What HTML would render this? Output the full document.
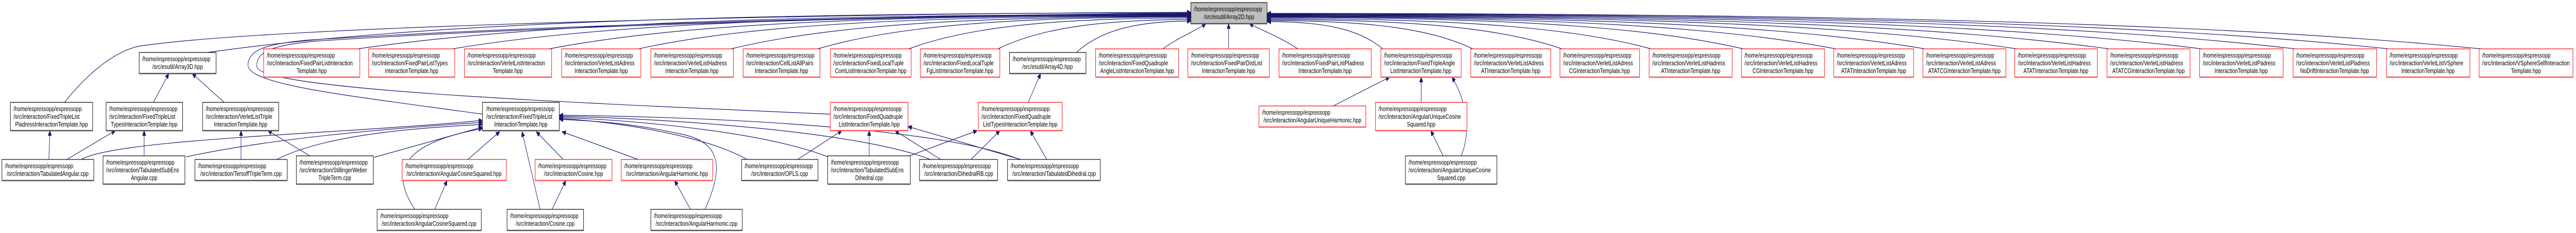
<!DOCTYPE html>
<html><head><meta charset="utf-8"><style>
html,body{margin:0;padding:0;background:#fff;width:100vw;height:100vh;overflow:hidden;}
svg{display:block;width:100vw;height:100vh;}
text{font-family:"Liberation Sans",Arial,sans-serif;font-size:13px;fill:#000;}
.e{fill:none;stroke:#191970;stroke-width:1.2;marker-end:url(#ah);}
.r{fill:#fff;stroke:#ff0000;stroke-width:1.2;}
.b{fill:#fff;stroke:#000;stroke-width:1.2;}
.g{fill:#bfbfbf;stroke:#000;stroke-width:1.2;}
.rs{stroke:#ff5a5a;stroke-width:2.5;}
.bs{stroke:#555;stroke-width:2.5;}
.m{text-anchor:middle;}
</style></head><body>
<svg viewBox="0 0 6701 453" preserveAspectRatio="none" xmlns="http://www.w3.org/2000/svg">
<defs><marker id="ah" markerUnits="userSpaceOnUse" markerWidth="11" markerHeight="9" refX="10" refY="4.5" orient="auto"><path d="M0,0 L10,4.5 L0,9 z" fill="#191970" stroke="#191970"/></marker></defs>

<path class="e" d="M168,199 C230,140 300,100 360,90 C700,50 2200,25 3098,24"/>
<path class="e" d="M539,102 C1051,48 1818,25 3098,25"/>
<path class="e" d="M1255,222 C900,185 640,165 645,125 C648,95 700,85 800,78 C1500,45 2500,28 3098,26"/>
<path class="e" d="M2160,222 C1500,200 680,175 668,130 C665,100 710,88 820,80 C1500,47 2500,29 3098,27"/>
<path class="e" d="M930,95 C1364,48 2014,28 3098,28"/>
<path class="e" d="M1177,95 C1561,47 2137,29 3098,29"/>
<path class="e" d="M1429,95 C1763,47 2263,30 3098,30"/>
<path class="e" d="M1661,95 C1948,48 2380,31 3098,31"/>
<path class="e" d="M1902,95 C2141,51 2500,32 3098,32"/>
<path class="e" d="M2127,95 C2321,52 2612,33 3098,33"/>
<path class="e" d="M2364,95 C2511,54 2731,35 3098,35"/>
<path class="e" d="M2596,95 C2696,58 2847,38 3098,38"/>
<path class="e" d="M2800,102 C2860,61 2949,41 3098,41"/>
<path class="e" d="M3025,95 C3060,75 3110,60 3137,46"/>
<path class="e" d="M3196,95 L3196,46"/>
<path class="e" d="M3376,95 C3330,72 3280,58 3250,46"/>
<path class="e" d="M3597,95 C3537,57 3446,42 3296,42"/>
<path class="e" d="M3831,95 C3724,56 3563,40 3296,40"/>
<path class="e" d="M4063,95 C3910,55 3679,38 3296,38"/>
<path class="e" d="M4295,95 C4095,54 3795,36 3296,36"/>
<path class="e" d="M4535,95 C4287,52 3915,34 3296,34"/>
<path class="e" d="M4775,95 C4479,52 4035,33 3296,33"/>
<path class="e" d="M5007,95 C4665,51 4151,32 3296,32"/>
<path class="e" d="M5246,95 C4856,50 4271,31 3296,31"/>
<path class="e" d="M5486,95 C5048,50 4391,30 3296,30"/>
<path class="e" d="M5727,95 C5241,49 4511,29 3296,29"/>
<path class="e" d="M5970,95 C5435,48 4633,28 3296,28"/>
<path class="e" d="M6213,95 C5630,48 4754,27 3296,27"/>
<path class="e" d="M6454,95 C5822,48 4875,26 3296,26"/>

<path class="e" d="M399,199 L439,143"/>
<path class="e" d="M583,199 L500,143"/>
<path class="e" d="M2675,199 L2707,143"/>
<path class="e" d="M127,310 L130,254"/>
<path class="e" d="M174,310 L300,254"/>
<path class="e" d="M375,303 L375,254"/>
<path class="e" d="M627,310 L627,254"/>
<path class="e" d="M806,303 L697,254"/>
<path class="e" d="M212,310 C300,270 900,260 1255,234"/>
<path class="e" d="M484,305 C700,270 1000,250 1255,238"/>
<path class="e" d="M720,310 C850,260 1100,248 1255,242"/>
<path class="e" d="M973,306 L1255,247"/>
<path class="e" d="M1217,310 L1300,256"/>
<path class="e" d="M1079,407 C1020,340 1030,280 1255,250"/>
<path class="e" d="M1405,407 L1358,256"/>
<path class="e" d="M1465,310 L1395,256"/>
<path class="e" d="M1660,310 L1462,256"/>
<path class="e" d="M1834,407 C1880,330 1880,280 1780,262 C1650,240 1550,235 1455,232"/>
<path class="e" d="M1943,310 C1850,270 1650,240 1455,230"/>
<path class="e" d="M2154,305 C2000,260 1700,236 1455,228"/>
<path class="e" d="M2420,310 C2250,260 1800,232 1455,226"/>
<path class="e" d="M2653,310 C2450,250 1900,228 1455,224"/>
<path class="e" d="M2075,310 L2190,254"/>
<path class="e" d="M2261,303 L2261,254"/>
<path class="e" d="M2447,310 L2328,254"/>
<path class="e" d="M2655,310 L2362,246"/>
<path class="e" d="M2366,303 L2542,254"/>
<path class="e" d="M2526,310 L2601,254"/>
<path class="e" d="M2723,310 L2680,254"/>
<path class="e" d="M1131,407 L1163,351"/>
<path class="e" d="M1436,407 L1472,351"/>
<path class="e" d="M1796,407 L1755,351"/>
<path class="e" d="M3468,206 L3615,150"/>
<path class="e" d="M3697,199 L3697,150"/>
<path class="e" d="M3801,303 C3830,250 3810,190 3777,150"/>
<path class="e" d="M3754,303 L3722,254"/>

<rect class="g" x="3098" y="5" width="198" height="41"/><line class="bs" x1="3098" y1="46" x2="3296" y2="46"/>
<text x="3106" y="22">/home/espressopp/espressopp</text><text class="m" x="3197" y="37">/src/esutil/Array2D.hpp</text>

<rect class="b" x="362" y="102" width="200" height="41"/><line class="bs" x1="362" y1="143" x2="562" y2="143"/>
<text x="370" y="119">/home/espressopp/espressopp</text><text class="m" x="462" y="134">/src/esutil/Array3D.hpp</text>

<rect class="r" x="686" y="95" width="250" height="55"/><line class="rs" x1="686" y1="150" x2="936" y2="150"/>
<text x="694" y="112">/home/espressopp/espressopp</text><text x="694" y="127">/src/interaction/FixedPairListInteraction</text><text class="m" x="811" y="142">Template.hpp</text>

<rect class="r" x="959" y="95" width="224" height="55"/><line class="rs" x1="959" y1="150" x2="1183" y2="150"/>
<text x="967" y="112">/home/espressopp/espressopp</text><text x="967" y="127">/src/interaction/FixedPairListTypes</text><text class="m" x="1071" y="142">InteractionTemplate.hpp</text>

<rect class="r" x="1208" y="95" width="227" height="55"/><line class="rs" x1="1208" y1="150" x2="1435" y2="150"/>
<text x="1216" y="112">/home/espressopp/espressopp</text><text x="1216" y="127">/src/interaction/VerletListInteraction</text><text class="m" x="1321" y="142">Template.hpp</text>

<rect class="r" x="1461" y="95" width="206" height="55"/><line class="rs" x1="1461" y1="150" x2="1667" y2="150"/>
<text x="1469" y="112">/home/espressopp/espressopp</text><text x="1469" y="127">/src/interaction/VerletListAdress</text><text class="m" x="1564" y="142">InteractionTemplate.hpp</text>

<rect class="r" x="1693" y="95" width="215" height="55"/><line class="rs" x1="1693" y1="150" x2="1908" y2="150"/>
<text x="1701" y="112">/home/espressopp/espressopp</text><text x="1701" y="127">/src/interaction/VerletListHadress</text><text class="m" x="1800" y="142">InteractionTemplate.hpp</text>

<rect class="r" x="1933" y="95" width="200" height="55"/><line class="rs" x1="1933" y1="150" x2="2133" y2="150"/>
<text x="1941" y="112">/home/espressopp/espressopp</text><text x="1941" y="127">/src/interaction/CellListAllPairs</text><text class="m" x="2033" y="142">InteractionTemplate.hpp</text>

<rect class="r" x="2160" y="95" width="210" height="55"/><line class="rs" x1="2160" y1="150" x2="2370" y2="150"/>
<text x="2168" y="112">/home/espressopp/espressopp</text><text x="2168" y="127">/src/interaction/FixedLocalTuple</text><text class="m" x="2265" y="142">ComListInteractionTemplate.hpp</text>

<rect class="r" x="2394" y="95" width="207" height="55"/><line class="rs" x1="2394" y1="150" x2="2601" y2="150"/>
<text x="2402" y="112">/home/espressopp/espressopp</text><text x="2402" y="127">/src/interaction/FixedLocalTuple</text><text class="m" x="2497" y="142">FgListInteractionTemplate.hpp</text>

<rect class="b" x="2626" y="102" width="199" height="41"/><line class="bs" x1="2626" y1="143" x2="2825" y2="143"/>
<text x="2634" y="119">/home/espressopp/espressopp</text><text class="m" x="2725" y="134">/src/esutil/Array4D.hpp</text>

<rect class="r" x="2850" y="95" width="216" height="55"/><line class="rs" x1="2850" y1="150" x2="3066" y2="150"/>
<text x="2858" y="112">/home/espressopp/espressopp</text><text x="2858" y="127">/src/interaction/FixedQuadruple</text><text class="m" x="2958" y="142">AngleListInteractionTemplate.hpp</text>

<rect class="r" x="3090" y="95" width="212" height="55"/><line class="rs" x1="3090" y1="150" x2="3302" y2="150"/>
<text x="3098" y="112">/home/espressopp/espressopp</text><text x="3098" y="127">/src/interaction/FixedPairDistList</text><text class="m" x="3196" y="142">InteractionTemplate.hpp</text>

<rect class="r" x="3327" y="95" width="240" height="55"/><line class="rs" x1="3327" y1="150" x2="3567" y2="150"/>
<text x="3335" y="112">/home/espressopp/espressopp</text><text x="3335" y="127">/src/interaction/FixedPairListPladress</text><text class="m" x="3447" y="142">InteractionTemplate.hpp</text>

<rect class="r" x="3592" y="95" width="209" height="55"/><line class="rs" x1="3592" y1="150" x2="3801" y2="150"/>
<text x="3600" y="112">/home/espressopp/espressopp</text><text x="3600" y="127">/src/interaction/FixedTripleAngle</text><text class="m" x="3696" y="142">ListInteractionTemplate.hpp</text>

<rect class="r" x="3826" y="95" width="208" height="55"/><line class="rs" x1="3826" y1="150" x2="4034" y2="150"/>
<text x="3834" y="112">/home/espressopp/espressopp</text><text x="3834" y="127">/src/interaction/VerletListAdress</text><text class="m" x="3930" y="142">ATInteractionTemplate.hpp</text>

<rect class="r" x="4058" y="95" width="207" height="55"/><line class="rs" x1="4058" y1="150" x2="4265" y2="150"/>
<text x="4066" y="112">/home/espressopp/espressopp</text><text x="4066" y="127">/src/interaction/VerletListAdress</text><text class="m" x="4161" y="142">CGInteractionTemplate.hpp</text>

<rect class="r" x="4290" y="95" width="216" height="55"/><line class="rs" x1="4290" y1="150" x2="4506" y2="150"/>
<text x="4298" y="112">/home/espressopp/espressopp</text><text x="4298" y="127">/src/interaction/VerletListHadress</text><text class="m" x="4398" y="142">ATInteractionTemplate.hpp</text>

<rect class="r" x="4530" y="95" width="216" height="55"/><line class="rs" x1="4530" y1="150" x2="4746" y2="150"/>
<text x="4538" y="112">/home/espressopp/espressopp</text><text x="4538" y="127">/src/interaction/VerletListHadress</text><text class="m" x="4638" y="142">CGInteractionTemplate.hpp</text>

<rect class="r" x="4770" y="95" width="208" height="55"/><line class="rs" x1="4770" y1="150" x2="4978" y2="150"/>
<text x="4778" y="112">/home/espressopp/espressopp</text><text x="4778" y="127">/src/interaction/VerletListAdress</text><text class="m" x="4874" y="142">ATATInteractionTemplate.hpp</text>

<rect class="r" x="5002" y="95" width="216" height="55"/><line class="rs" x1="5002" y1="150" x2="5218" y2="150"/>
<text x="5010" y="112">/home/espressopp/espressopp</text><text x="5010" y="127">/src/interaction/VerletListAdress</text><text class="m" x="5110" y="142">ATATCGInteractionTemplate.hpp</text>

<rect class="r" x="5241" y="95" width="215" height="55"/><line class="rs" x1="5241" y1="150" x2="5456" y2="150"/>
<text x="5249" y="112">/home/espressopp/espressopp</text><text x="5249" y="127">/src/interaction/VerletListHadress</text><text class="m" x="5348" y="142">ATATInteractionTemplate.hpp</text>

<rect class="r" x="5481" y="95" width="216" height="55"/><line class="rs" x1="5481" y1="150" x2="5697" y2="150"/>
<text x="5489" y="112">/home/espressopp/espressopp</text><text x="5489" y="127">/src/interaction/VerletListHadress</text><text class="m" x="5589" y="142">ATATCGInteractionTemplate.hpp</text>

<rect class="r" x="5722" y="95" width="217" height="55"/><line class="rs" x1="5722" y1="150" x2="5939" y2="150"/>
<text x="5730" y="112">/home/espressopp/espressopp</text><text x="5730" y="127">/src/interaction/VerletListPadress</text><text class="m" x="5830" y="142">InteractionTemplate.hpp</text>

<rect class="r" x="5965" y="95" width="217" height="55"/><line class="rs" x1="5965" y1="150" x2="6182" y2="150"/>
<text x="5973" y="112">/home/espressopp/espressopp</text><text x="5973" y="127">/src/interaction/VerletListPladress</text><text class="m" x="6073" y="142">NoDriftInteractionTemplate.hpp</text>

<rect class="r" x="6208" y="95" width="217" height="55"/><line class="rs" x1="6208" y1="150" x2="6425" y2="150"/>
<text x="6216" y="112">/home/espressopp/espressopp</text><text x="6216" y="127">/src/interaction/VerletListVSphere</text><text class="m" x="6316" y="142">InteractionTemplate.hpp</text>

<rect class="r" x="6449" y="95" width="244" height="55"/><line class="rs" x1="6449" y1="150" x2="6693" y2="150"/>
<text x="6457" y="112" textLength="178" lengthAdjust="spacingAndGlyphs">/home/espressopp/espressopp</text><text x="6457" y="127" textLength="228" lengthAdjust="spacingAndGlyphs">/src/interaction/VSphereSelfInteraction</text><text class="m" x="6571" y="142">Template.hpp</text>

<rect class="b" x="27" y="199" width="214" height="55"/><line class="bs" x1="27" y1="254" x2="241" y2="254"/>
<text x="35" y="216">/home/espressopp/espressopp</text><text x="35" y="231">/src/interaction/FixedTripleList</text><text class="m" x="134" y="246">PladressInteractionTemplate.hpp</text>

<rect class="b" x="276" y="199" width="199" height="55"/><line class="bs" x1="276" y1="254" x2="475" y2="254"/>
<text x="284" y="216">/home/espressopp/espressopp</text><text x="284" y="231">/src/interaction/FixedTripleList</text><text class="m" x="375" y="246">TypesInteractionTemplate.hpp</text>

<rect class="b" x="527" y="199" width="198" height="55"/><line class="bs" x1="527" y1="254" x2="725" y2="254"/>
<text x="535" y="216">/home/espressopp/espressopp</text><text x="535" y="231">/src/interaction/VerletListTriple</text><text class="m" x="626" y="246">InteractionTemplate.hpp</text>

<rect class="b" x="1255" y="199" width="200" height="55"/><line class="bs" x1="1255" y1="254" x2="1455" y2="254"/>
<text x="1265" y="216">/home/espressopp/espressopp</text><text x="1265" y="231">/src/interaction/FixedTripleList</text><text class="m" x="1355" y="246">InteractionTemplate.hpp</text>

<rect class="r" x="2160" y="199" width="202" height="55"/><line class="rs" x1="2160" y1="254" x2="2362" y2="254"/>
<text x="2168" y="216">/home/espressopp/espressopp</text><text x="2168" y="231">/src/interaction/FixedQuadruple</text><text class="m" x="2261" y="246">ListInteractionTemplate.hpp</text>

<rect class="r" x="2545" y="199" width="218" height="55"/><line class="rs" x1="2545" y1="254" x2="2763" y2="254"/>
<text x="2553" y="216">/home/espressopp/espressopp</text><text x="2553" y="231">/src/interaction/FixedQuadruple</text><text class="m" x="2654" y="246">ListTypesInteractionTemplate.hpp</text>

<rect class="r" x="3275" y="206" width="278" height="41"/><line class="rs" x1="3275" y1="247" x2="3553" y2="247"/>
<text x="3283" y="223">/home/espressopp/espressopp</text><text class="m" x="3414" y="238">/src/interaction/AngularUniqueHarmonic.hpp</text>

<rect class="r" x="3578" y="199" width="238" height="55"/><line class="rs" x1="3578" y1="254" x2="3816" y2="254"/>
<text x="3586" y="216">/home/espressopp/espressopp</text><text x="3586" y="231">/src/interaction/AngularUniqueCosine</text><text class="m" x="3697" y="246">Squared.hpp</text>

<rect class="b" x="5" y="310" width="239" height="41"/><line class="bs" x1="5" y1="351" x2="244" y2="351"/>
<text x="13" y="327">/home/espressopp/espressopp</text><text class="m" x="124" y="342">/src/interaction/TabulatedAngular.cpp</text>

<rect class="b" x="268" y="303" width="213" height="55"/><line class="bs" x1="268" y1="358" x2="481" y2="358"/>
<text x="276" y="320">/home/espressopp/espressopp</text><text x="276" y="335">/src/interaction/TabulatedSubEns</text><text class="m" x="375" y="350">Angular.cpp</text>

<rect class="b" x="507" y="310" width="240" height="41"/><line class="bs" x1="507" y1="351" x2="747" y2="351"/>
<text x="515" y="327">/home/espressopp/espressopp</text><text class="m" x="627" y="342">/src/interaction/TersoffTripleTerm.cpp</text>

<rect class="b" x="771" y="303" width="200" height="55"/><line class="bs" x1="771" y1="358" x2="971" y2="358"/>
<text x="779" y="320">/home/espressopp/espressopp</text><text x="779" y="335">/src/interaction/StillingerWeber</text><text class="m" x="871" y="350">TripleTerm.cpp</text>

<rect class="r" x="1046" y="310" width="271" height="41"/><line class="rs" x1="1046" y1="351" x2="1317" y2="351"/>
<text x="1054" y="327">/home/espressopp/espressopp</text><text class="m" x="1181" y="342">/src/interaction/AngularCosineSquared.hpp</text>

<rect class="r" x="1392" y="310" width="200" height="41"/><line class="rs" x1="1392" y1="351" x2="1592" y2="351"/>
<text x="1400" y="327">/home/espressopp/espressopp</text><text class="m" x="1492" y="342">/src/interaction/Cosine.hpp</text>

<rect class="r" x="1616" y="310" width="238" height="41"/><line class="rs" x1="1616" y1="351" x2="1854" y2="351"/>
<text x="1624" y="327">/home/espressopp/espressopp</text><text class="m" x="1735" y="342">/src/interaction/AngularHarmonic.hpp</text>

<rect class="b" x="1929" y="310" width="199" height="41"/><line class="bs" x1="1929" y1="351" x2="2128" y2="351"/>
<text x="1937" y="327">/home/espressopp/espressopp</text><text class="m" x="2028" y="342">/src/interaction/OPLS.cpp</text>

<rect class="b" x="2153" y="303" width="215" height="55"/><line class="bs" x1="2153" y1="358" x2="2368" y2="358"/>
<text x="2161" y="320">/home/espressopp/espressopp</text><text x="2161" y="335">/src/interaction/TabulatedSubEns</text><text class="m" x="2261" y="350">Dihedral.cpp</text>

<rect class="b" x="2392" y="310" width="203" height="41"/><line class="bs" x1="2392" y1="351" x2="2595" y2="351"/>
<text x="2400" y="327">/home/espressopp/espressopp</text><text class="m" x="2494" y="342">/src/interaction/DihedralRB.cpp</text>

<rect class="b" x="2621" y="310" width="241" height="41"/><line class="bs" x1="2621" y1="351" x2="2862" y2="351"/>
<text x="2629" y="327">/home/espressopp/espressopp</text><text class="m" x="2742" y="342">/src/interaction/TabulatedDihedral.cpp</text>

<rect class="b" x="3656" y="303" width="238" height="55"/><line class="bs" x1="3656" y1="358" x2="3894" y2="358"/>
<text x="3664" y="320">/home/espressopp/espressopp</text><text x="3664" y="335">/src/interaction/AngularUniqueCosine</text><text class="m" x="3775" y="350">Squared.cpp</text>

<rect class="b" x="981" y="407" width="271" height="41"/><line class="bs" x1="981" y1="448" x2="1252" y2="448"/>
<text x="989" y="424">/home/espressopp/espressopp</text><text class="m" x="1116" y="439">/src/interaction/AngularCosineSquared.cpp</text>

<rect class="b" x="1319" y="407" width="199" height="41"/><line class="bs" x1="1319" y1="448" x2="1518" y2="448"/>
<text x="1327" y="424">/home/espressopp/espressopp</text><text class="m" x="1418" y="439">/src/interaction/Cosine.cpp</text>

<rect class="b" x="1693" y="407" width="238" height="41"/><line class="bs" x1="1693" y1="448" x2="1931" y2="448"/>
<text x="1701" y="424">/home/espressopp/espressopp</text><text class="m" x="1812" y="439">/src/interaction/AngularHarmonic.cpp</text>
</svg>
</body></html>
